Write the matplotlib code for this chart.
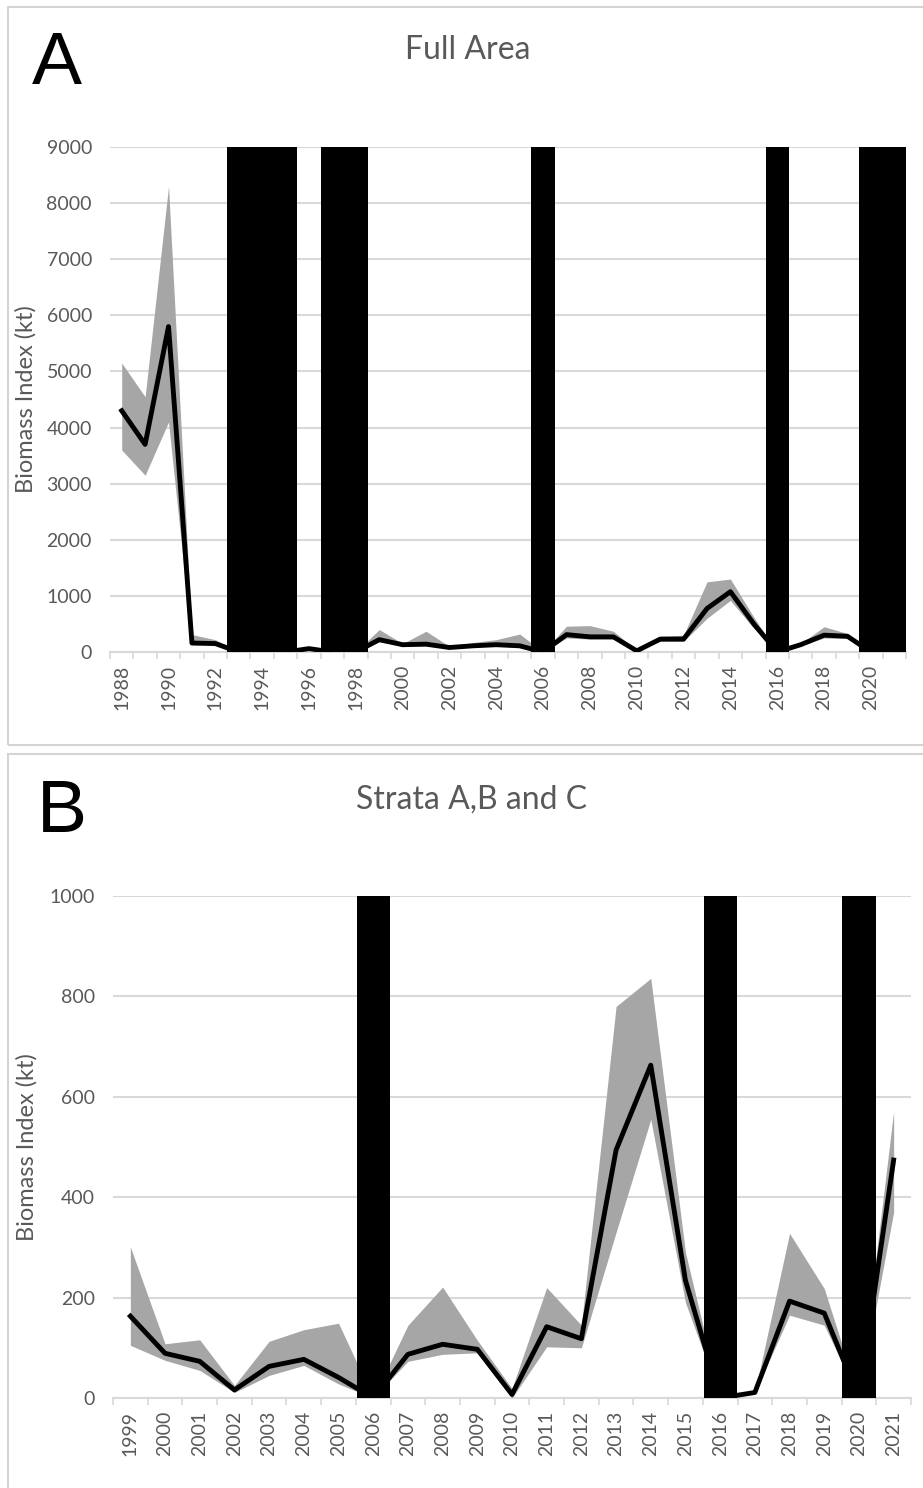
import matplotlib
matplotlib.use("Agg")
import matplotlib.pyplot as plt
import numpy as np
from matplotlib.patches import Rectangle
from matplotlib.ticker import MultipleLocator, FixedLocator

# ---- panel A : full area ----
years_a = list(range(1988, 2022))
biomass_a = [4300, 3700, 5800, 160, 150, 0, 0, 0, 60, 0, 0, 220, 130, 140, 80, 110,
             130, 110, 0, 310, 270, 270, 20, 230, 230, 775, 1075, 500, 0, 130, 300, 280, 0, 0]
upper_a = [5150, 4550, 8300, 310, 220, 0, 0, 0, 70, 0, 0, 400, 150, 370, 100, 170,
           220, 320, 0, 460, 470, 370, 30, 280, 300, 1250, 1300, 620, 0, 150, 450, 330, 0, 0]
lower_a = [3600, 3150, 4100, 130, 130, 0, 0, 0, 40, 0, 0, 180, 110, 110, 60, 90,
           110, 80, 0, 250, 230, 230, 10, 190, 190, 600, 920, 420, 0, 110, 250, 240, 0, 0]
gap_years_a = [1993, 1994, 1995, 1997, 1998, 2006, 2016, 2020, 2021]
gap_top_a = 9000

# ---- panel B : strata A, B and C ----
years_b = list(range(1999, 2022))
biomass_b = [163, 89, 73, 16, 63, 77, 41, 0, 87, 107, 97, 7, 142, 118, 494, 663,
             234, 0, 11, 193, 169, 0, 474]
upper_b = [301, 108, 116, 25, 113, 136, 149, 0, 145, 221, 115, 19, 220, 145, 780, 836,
           290, 0, 11, 328, 218, 0, 571]
lower_b = [105, 75, 55, 11, 45, 65, 28, 0, 73, 87, 90, 0, 102, 100, 330, 555,
           190, 0, 11, 165, 145, 0, 370]
gap_years_b = [2006, 2016, 2020]
gap_top_b = 1000

W, H = 923, 1488
plt.rcParams['font.family'] = ['Lato', 'DejaVu Sans']
fig = plt.figure(figsize=(W / 100, H / 100), dpi=100)

TXT = '#595959'
GRID = '#d9d9d9'


def px_axes(left, top, right, bottom):
    return fig.add_axes([left / W, 1 - bottom / H, (right - left) / W, (bottom - top) / H])


def draw_panel(ax, years, mean, lo, hi, gaps, gap_top, ystep, label_step, bar_w):
    ax.fill_between(years, lo, hi, color='#a6a6a6', lw=0, zorder=2)
    ax.bar(gaps, [gap_top] * len(gaps), width=bar_w, color='black', zorder=3)
    ax.plot(years, mean, color='black', lw=3.5, solid_joinstyle='round', zorder=4)

    ax.set_xlim(years[0] - 0.5, years[-1] + 0.5)
    ax.set_ylim(0, gap_top)
    ax.yaxis.set_major_locator(MultipleLocator(ystep))
    ax.grid(axis='y', color=GRID, lw=1.5, zorder=0)
    ax.set_axisbelow(True)

    # labels on categories, tick marks between categories
    ax.xaxis.set_major_locator(FixedLocator(years[::label_step]))
    ax.xaxis.set_minor_locator(FixedLocator(np.arange(years[0] - 0.5, years[-1] + 1, 1)))
    ax.tick_params(axis='x', which='major', length=0, pad=9, labelrotation=90,
                   labelsize=14, labelcolor=TXT)
    ax.tick_params(axis='x', which='minor', length=5, width=1.2, color=GRID)
    ax.tick_params(axis='y', length=0, pad=13, labelsize=14, labelcolor=TXT)

    for s in ['top', 'right', 'left']:
        ax.spines[s].set_visible(False)
    ax.spines['bottom'].set_color(GRID)
    ax.spines['bottom'].set_linewidth(1.5)
    ax.spines['bottom'].set_zorder(1)
    ax.set_ylabel('Biomass Index (kt)', color=TXT, fontsize=17)


# panel frames
fig.patches.append(Rectangle((8 / W, 1 - 745 / H), 930 / W, 738 / H, transform=fig.transFigure,
                             fill=False, ec='#d4d4d4', lw=1.5))
fig.patches.append(Rectangle((8 / W, 1 - 1500 / H), 930 / W, 746 / H, transform=fig.transFigure,
                             fill=False, ec='#d4d4d4', lw=1.5))

ax_a = px_axes(110, 147, 906, 652)
draw_panel(ax_a, years_a, biomass_a, lower_a, upper_a, gap_years_a, gap_top_a, 1000, 2, 1.0)
ax_a.yaxis.set_label_coords(-0.092, 0.5)

ax_b = px_axes(113, 896, 911, 1398)
draw_panel(ax_b, years_b, biomass_b, lower_b, upper_b, gap_years_b, gap_top_b, 200, 1, 0.96)
ax_b.yaxis.set_label_coords(-0.095, 0.5)

fig.text(57 / W, 1 - 65 / H, 'A', fontsize=54, family='Liberation Sans', ha='center', va='center')
fig.text(62 / W, 1 - 813 / H, 'B', fontsize=54, family='Liberation Sans', ha='center', va='center')
fig.text(468 / W, 1 - 50 / H, 'Full Area', fontsize=23, color=TXT, ha='center', va='center')
fig.text(472 / W, 1 - 800 / H, 'Strata A,B and C', fontsize=23, color=TXT, ha='center', va='center')

fig.savefig('out.png', dpi=100)
